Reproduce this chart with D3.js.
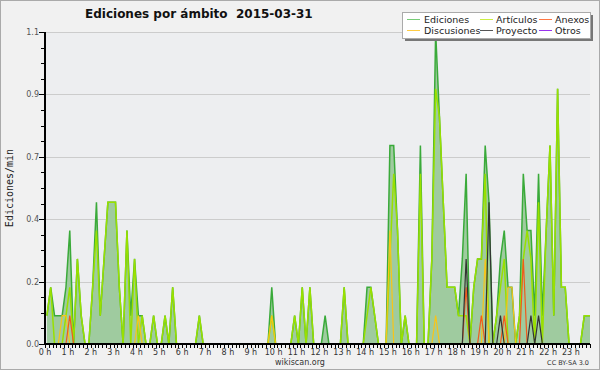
<!DOCTYPE html>
<html>
<head>
<meta charset="utf-8">
<script src="https://cdn.jsdelivr.net/npm/d3@7"></script>
<style>
  body { margin: 0; background: #f2f2f2; }
  svg { display: block; }
  text { font-family: "DejaVu Sans", sans-serif; }
</style>
</head>
<body>
<div id="chart"></div>
<script>
// Edits per minute, one value per 10-minute slot (144 slots, 0h00 .. 23h50)
const ediciones = [
  0.1, 0.2, 0.1, 0.1, 0.1, 0.2,  0.4, 0, 0.3, 0.1, 0, 0,
  0.2, 0.5, 0.1, 0.3, 0.5, 0.5,  0.5, 0.2, 0, 0.4, 0.1, 0.3,
  0.1, 0.1, 0, 0, 0.1, 0,        0, 0.1, 0, 0.2, 0, 0,
  0, 0, 0, 0, 0.1, 0,            0, 0, 0, 0, 0, 0,
  0, 0, 0, 0, 0, 0,              0, 0, 0, 0, 0, 0.2,
  0, 0, 0, 0, 0, 0.1,            0, 0.2, 0, 0.2, 0, 0,
  0, 0.1, 0, 0, 0, 0,            0.2, 0, 0, 0, 0, 0,
  0.2, 0.2, 0.1, 0, 0, 0,        0.7, 0.7, 0.4, 0, 0.1, 0,
  0, 0, 0.7, 0, 0, 0.3,          1.1, 0.8, 0.5, 0.2, 0.2, 0.2,
  0.1, 0.3, 0.6, 0, 0.2, 0.3,    0.3, 0.7, 0.5, 0, 0.1, 0.3,
  0.4, 0.2, 0.2, 0, 0.1, 0.6,    0.4, 0.4, 0.1, 0.6, 0.1, 0.4,
  0.7, 0.1, 0.9, 0.2, 0.2, 0,    0, 0, 0, 0.1, 0.1, 0.1
];
const articulos = [
  0.1, 0.2, 0, 0, 0, 0.1,        0.2, 0, 0.3, 0.1, 0, 0,
  0.2, 0.4, 0.1, 0.3, 0.5, 0.5,  0.5, 0.2, 0, 0.4, 0, 0.3,
  0, 0.1, 0, 0, 0.1, 0,          0, 0.1, 0, 0.2, 0, 0,
  0, 0, 0, 0, 0.1, 0,            0, 0, 0, 0, 0, 0,
  0, 0, 0, 0, 0, 0,              0, 0, 0, 0, 0, 0.1,
  0, 0, 0, 0, 0, 0.1,            0, 0.2, 0, 0.2, 0, 0,
  0, 0, 0, 0, 0, 0,              0.2, 0, 0, 0, 0, 0,
  0.1, 0.2, 0.1, 0, 0, 0,        0.3, 0.6, 0.4, 0, 0.1, 0,
  0, 0, 0.6, 0, 0, 0.3,          0.9, 0.8, 0.5, 0.2, 0.2, 0.2,
  0.1, 0.1, 0.1, 0, 0.2, 0.3,    0.3, 0.6, 0, 0, 0.1, 0.2,
  0.3, 0, 0, 0, 0.1, 0.3,        0.4, 0.3, 0, 0.5, 0, 0.4,
  0.7, 0.1, 0.9, 0.2, 0.2, 0,    0, 0, 0, 0.1, 0.1, 0.1
];
const discusiones = [
  0, 0, 0, 0, 0.1, 0.1,          0, 0, 0, 0, 0, 0,
  0, 0, 0, 0, 0, 0,              0, 0, 0, 0, 0, 0,
  0.1, 0, 0, 0, 0, 0,            0, 0, 0, 0, 0, 0,
  0, 0, 0, 0, 0, 0,              0, 0, 0, 0, 0, 0,
  0, 0, 0, 0, 0, 0,              0, 0, 0, 0, 0, 0.1,
  0, 0, 0, 0, 0, 0,              0, 0, 0, 0, 0, 0,
  0, 0, 0, 0, 0, 0,              0, 0, 0, 0, 0, 0,
  0, 0, 0, 0, 0, 0,              0.4, 0, 0, 0, 0, 0,
  0, 0, 0, 0, 0, 0,              0.1, 0, 0, 0, 0, 0,
  0, 0, 0, 0, 0, 0,              0, 0.3, 0, 0, 0, 0,
  0, 0.2, 0.2, 0, 0, 0,          0, 0, 0, 0, 0, 0,
  0, 0, 0, 0, 0, 0,              0, 0, 0, 0, 0, 0
];
const anexos = [
  0, 0, 0, 0, 0, 0,              0.1, 0, 0, 0, 0, 0,
  0, 0, 0, 0, 0, 0,              0, 0, 0, 0, 0, 0,
  0, 0, 0, 0, 0, 0,              0, 0, 0, 0, 0, 0,
  0, 0, 0, 0, 0, 0,              0, 0, 0, 0, 0, 0,
  0, 0, 0, 0, 0, 0,              0, 0, 0, 0, 0, 0,
  0, 0, 0, 0, 0, 0,              0, 0, 0, 0, 0, 0,
  0, 0, 0, 0, 0, 0,              0, 0, 0, 0, 0, 0,
  0, 0, 0, 0, 0, 0,              0, 0, 0, 0, 0, 0,
  0, 0, 0, 0, 0, 0,              0, 0, 0, 0, 0, 0,
  0, 0, 0.2, 0, 0, 0,            0.1, 0, 0, 0, 0, 0,
  0.1, 0, 0, 0, 0, 0.3,          0, 0, 0, 0, 0, 0,
  0, 0, 0, 0, 0, 0,              0, 0, 0, 0, 0, 0
];
const proyecto = [
  0, 0, 0, 0, 0, 0,              0, 0, 0, 0, 0, 0,
  0, 0, 0, 0, 0, 0,              0, 0, 0, 0, 0, 0,
  0, 0, 0, 0, 0, 0,              0, 0, 0, 0, 0, 0,
  0, 0, 0, 0, 0, 0,              0, 0, 0, 0, 0, 0,
  0, 0, 0, 0, 0, 0,              0, 0, 0, 0, 0, 0,
  0, 0, 0, 0, 0, 0,              0, 0, 0, 0, 0, 0,
  0, 0, 0, 0, 0, 0,              0, 0, 0, 0, 0, 0,
  0, 0, 0, 0, 0, 0,              0, 0, 0, 0, 0, 0,
  0, 0, 0, 0, 0, 0,              0, 0, 0, 0, 0, 0,
  0, 0, 0.3, 0, 0, 0,            0, 0, 0.5, 0, 0, 0.1,
  0, 0, 0, 0, 0, 0,              0, 0.1, 0, 0.1, 0, 0,
  0, 0, 0, 0, 0, 0,              0, 0, 0, 0, 0, 0
];

const hourLabels = ["0 h", "1 h", "2 h", "3 h", "4 h", "5 h", "6 h", "7 h", "8 h", "9 h", "10 h", "11 h",
  "12 h", "13 h", "14 h", "15 h", "16 h", "17 h", "18 h", "19 h", "20 h", "21 h", "22 h", "23 h"];
const yTickValues = [0, 0.22, 0.44, 0.66, 0.88, 1.1];
const yTickLabels = ["0.0", "0.2", "0.4", "0.7", "0.9", "1.1"];

const legendItems = [
  {name: "Ediciones", color: "#77cc77", col: 0, row: 0},
  {name: "Discusiones", color: "#ffcc44", col: 0, row: 1},
  {name: "Artículos", color: "#ccee44", col: 1, row: 0},
  {name: "Proyecto", color: "#555555", col: 1, row: 1},
  {name: "Anexos", color: "#ff7744", col: 2, row: 0},
  {name: "Otros", color: "#9933ee", col: 2, row: 1}
];

const width = 600, height = 370;
const plotLeft = 45, plotRight = 590, plotTop = 32, plotBottom = 344;

const svg = d3.select("#chart")
  .append("svg")
  .attr("width", width)
  .attr("height", height);

// page background and frame
svg.append("rect")
  .attr("x", 0.5).attr("y", 0.5)
  .attr("width", width - 1).attr("height", height - 1)
  .attr("fill", "#f1f1f1")
  .attr("stroke", "#aaaaaa");

// plot background
svg.append("rect")
  .attr("x", plotLeft).attr("y", plotTop)
  .attr("width", plotRight - plotLeft).attr("height", plotBottom - plotTop)
  .attr("fill", "#edeef0");

const x = d3.scaleLinear().domain([0, 143]).range([plotLeft, plotRight]);
const y = d3.scaleLinear().domain([0, 1.1]).range([plotBottom, plotTop]);

// grid lines
svg.append("g")
  .selectAll("line")
  .data(yTickValues.slice(1))
  .enter()
  .append("line")
  .attr("x1", plotLeft).attr("x2", plotRight)
  .attr("y1", d => Math.round(y(d)) + 0.5)
  .attr("y2", d => Math.round(y(d)) + 0.5)
  .attr("stroke", "#cccccc");

svg.append("clipPath").attr("id", "plotclip")
  .append("rect")
  .attr("x", plotLeft).attr("y", 0)
  .attr("width", plotRight - plotLeft).attr("height", plotBottom);

const plot = svg.append("g").attr("clip-path", "url(#plotclip)");

const area = d3.area()
  .x((d, i) => x(i + 0.5))
  .y0(y(0))
  .y1(d => y(d));

const line = d3.line()
  .x((d, i) => x(i + 0.5))
  .y(d => y(d));

// Ediciones: filled area with dark green outline
plot.append("path")
  .attr("d", area(ediciones))
  .attr("fill", "#9fcb9f");

plot.append("path")
  .attr("d", line(ediciones))
  .attr("fill", "none")
  .attr("stroke", "#3aaa3a")
  .attr("stroke-width", 1.5);

// the other series as lines
const series = [
  {values: articulos, color: "#99e000", w: 1.5},
  {values: discusiones, color: "#f8c418", w: 1.2},
  {values: anexos, color: "#f05a1e", w: 1.2},
  {values: proyecto, color: "#333333", w: 1.2}
];

series.forEach(function (s) {
  plot.append("path")
    .attr("d", line(s.values))
    .attr("fill", "none")
    .attr("stroke", s.color)
    .attr("stroke-width", s.w);
});

// y axis
const yAxis = svg.append("g");
yAxis.selectAll("line.minor")
  .data(d3.range(0, 21))
  .enter()
  .append("line")
  .attr("x1", plotLeft - 4).attr("x2", plotLeft)
  .attr("y1", d => Math.round(y(d * 0.055)) + 0.5)
  .attr("y2", d => Math.round(y(d * 0.055)) + 0.5)
  .attr("stroke", "#000");

yAxis.selectAll("line.major")
  .data(yTickValues)
  .enter()
  .append("line")
  .attr("x1", plotLeft - 6).attr("x2", plotLeft)
  .attr("y1", d => Math.round(y(d)) + 0.5)
  .attr("y2", d => Math.round(y(d)) + 0.5)
  .attr("stroke", "#000");

yAxis.selectAll("text")
  .data(yTickValues)
  .enter()
  .append("text")
  .attr("x", plotLeft - 6)
  .attr("y", d => y(d) + 3)
  .attr("text-anchor", "end")
  .attr("font-size", 8)
  .attr("fill", "#555")
  .text((d, i) => yTickLabels[i]);

yAxis.append("line")
  .attr("x1", plotLeft).attr("x2", plotLeft)
  .attr("y1", plotTop).attr("y2", plotBottom + 1)
  .attr("stroke", "#000")
  .attr("stroke-width", 2);

// x axis
const xAxis = svg.append("g");
xAxis.selectAll("line")
  .data(d3.range(0, 144))
  .enter()
  .append("line")
  .attr("x1", d => Math.round(x(d)) + 0.5)
  .attr("x2", d => Math.round(x(d)) + 0.5)
  .attr("y1", plotBottom).attr("y2", plotBottom + 4)
  .attr("stroke", "#000");

xAxis.selectAll("text")
  .data(hourLabels)
  .enter()
  .append("text")
  .attr("x", (d, i) => x(i * 6))
  .attr("y", plotBottom + 11)
  .attr("text-anchor", "middle")
  .attr("font-size", 8)
  .attr("fill", "#333")
  .text(d => d);

xAxis.append("line")
  .attr("x1", plotLeft - 1).attr("x2", plotRight)
  .attr("y1", plotBottom).attr("y2", plotBottom)
  .attr("stroke", "#000")
  .attr("stroke-width", 2);

// titles
svg.append("text")
  .attr("x", 85).attr("y", 18)
  .attr("font-size", 12)
  .attr("font-weight", "bold")
  .attr("fill", "#111")
  .style("white-space", "pre")
  .text("Ediciones por ámbito  2015-03-31");

svg.append("text")
  .attr("transform", "translate(13," + ((plotTop + plotBottom) / 2) + ") rotate(-90)")
  .attr("text-anchor", "middle")
  .style("font-family", "'DejaVu Sans Mono', monospace")
  .attr("font-size", 10)
  .attr("fill", "#222")
  .text("Ediciones/min");

svg.append("text")
  .attr("x", 300).attr("y", 365)
  .attr("text-anchor", "middle")
  .attr("font-size", 8)
  .attr("fill", "#333")
  .text("wikiscan.org");

svg.append("text")
  .attr("x", 589).attr("y", 365)
  .attr("text-anchor", "end")
  .attr("font-size", 6.5)
  .attr("fill", "#333")
  .text("CC BY-SA 3.0");

// legend
const legend = svg.append("g");
legend.append("rect")
  .attr("x", 405).attr("y", 15)
  .attr("width", 188).attr("height", 26)
  .attr("fill", "#777");
legend.append("rect")
  .attr("x", 402.5).attr("y", 12.5)
  .attr("width", 188).attr("height", 26)
  .attr("fill", "#fff")
  .attr("stroke", "#aaa");

const colX = [407, 480, 539];
const rowY = [19.5, 30.5];

legendItems.forEach(function (d) {
  legend.append("line")
    .attr("x1", colX[d.col]).attr("x2", colX[d.col] + 13)
    .attr("y1", rowY[d.row]).attr("y2", rowY[d.row])
    .attr("stroke", d.color);
  legend.append("text")
    .attr("x", colX[d.col] + (d.col === 0 ? 17 : 16))
    .attr("y", rowY[d.row] + 3.5)
    .attr("font-size", 9.5)
    .attr("fill", "#222")
    .text(d.name);
});
</script>
</body>
</html>
